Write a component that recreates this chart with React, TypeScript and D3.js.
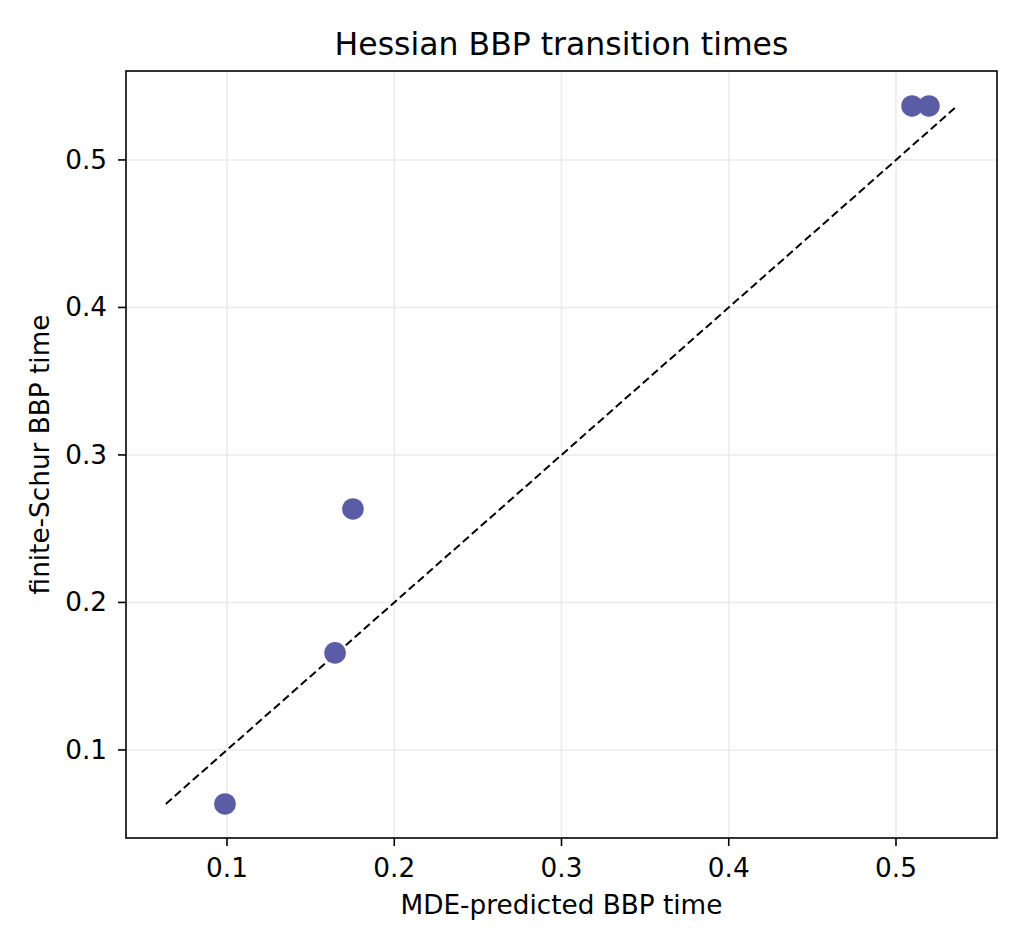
import React from "react";
import * as d3 from "d3";

const predicted = [0.0988, 0.1646, 0.1753, 0.5096, 0.5197];
const observed = [0.0634, 0.1658, 0.2634, 0.5366, 0.5366];
const xTicks = [0.1, 0.2, 0.3, 0.4, 0.5];
const yTicks = [0.1, 0.2, 0.3, 0.4, 0.5];
const titleText = "Hessian BBP transition times";
const xLabel = "MDE-predicted BBP time";
const yLabel = "finite-Schur BBP time";

const W = 1026;
const H = 950;
const M = { left: 126, right: 997, top: 71, bottom: 838 };
const FONT = "DejaVu Sans, sans-serif";

export default function App() {
  const x = d3.scaleLinear().domain([0.0396, 0.5604]).range([M.left, M.right]);
  const y = d3.scaleLinear().domain([0.0403, 0.5603]).range([M.bottom, M.top]);
  const all = [...predicted, ...observed];
  const lo = d3.min(all) as number;
  const hi = d3.max(all) as number;
  return (
    <svg width={W} height={H} style={{ position: "absolute", left: 0, top: 0, background: "#fff" }} fontFamily={FONT}>
      <rect x={0} y={0} width={W} height={H} fill="#fff" />
      {xTicks.map((t) => (
        <line key={"gx" + t} x1={x(t)} x2={x(t)} y1={M.top} y2={M.bottom} stroke="#ebebeb" strokeWidth={1.5} />
      ))}
      {yTicks.map((t) => (
        <line key={"gy" + t} x1={M.left} x2={M.right} y1={y(t)} y2={y(t)} stroke="#ebebeb" strokeWidth={1.5} />
      ))}
      <line x1={x(lo)} y1={y(lo)} x2={x(hi)} y2={y(hi)} stroke="#000" strokeWidth={2} strokeDasharray="8,4" />
      {predicted.map((p, i) => (
        <circle key={i} cx={x(p)} cy={y(observed[i])} r={10.8} fill="#5a5ca6" />
      ))}
      <rect x={M.left} y={M.top} width={M.right - M.left} height={M.bottom - M.top} fill="none" stroke="#000" strokeWidth={1.6} />
      {xTicks.map((t) => (
        <g key={"tx" + t}>
          <line x1={x(t)} x2={x(t)} y1={M.bottom} y2={M.bottom + 8} stroke="#000" strokeWidth={1.6} />
          <text x={x(t)} y={M.bottom + 30} textAnchor="middle" dominantBaseline="central" fontSize={26.3}>
            {d3.format(".1f")(t)}
          </text>
        </g>
      ))}
      {yTicks.map((t) => (
        <g key={"ty" + t}>
          <line x1={M.left - 8} x2={M.left} y1={y(t)} y2={y(t)} stroke="#000" strokeWidth={1.6} />
          <text x={M.left - 19} y={y(t)} textAnchor="end" dominantBaseline="central" fontSize={26.3}>
            {d3.format(".1f")(t)}
          </text>
        </g>
      ))}
      <text x={(M.left + M.right) / 2} y={44} textAnchor="middle" dominantBaseline="central" fontSize={31.5}>
        {titleText}
      </text>
      <text x={(M.left + M.right) / 2} y={905} textAnchor="middle" dominantBaseline="central" fontSize={26.3}>
        {xLabel}
      </text>
      <text
        transform={`translate(40, ${(M.top + M.bottom) / 2}) rotate(-90)`}
        textAnchor="middle"
        dominantBaseline="central"
        fontSize={26.3}
      >
        {yLabel}
      </text>
    </svg>
  );
}
